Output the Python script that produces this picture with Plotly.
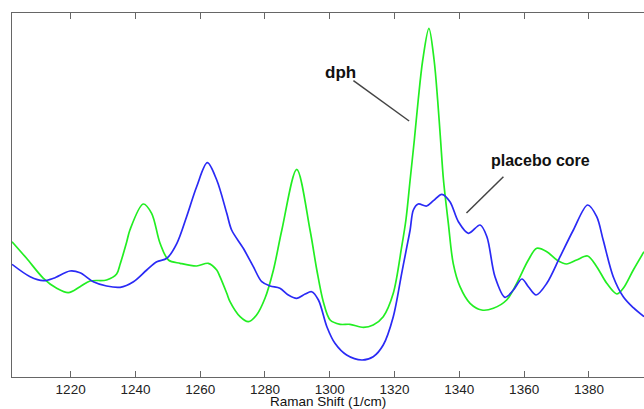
import plotly.graph_objects as go

# Raman shift (1/cm) and intensity (arbitrary units)
dph_shift = [1201.9, 1206.4, 1211.6, 1215.7, 1219.3, 1222.9, 1226.0, 1231.1, 1234.2, 1235.3,
             1237.3, 1238.3, 1242.4, 1245.0, 1247.6, 1250.2, 1253.8, 1258.9, 1262.5, 1265.1,
             1266.1, 1268.2, 1269.2, 1272.3, 1274.9, 1277.4, 1280.0, 1282.6, 1285.2, 1289.8,
             1293.9, 1296.0, 1298.0, 1300.1, 1303.2, 1306.2, 1310.4, 1313.4, 1316.5, 1319.6,
             1322.2, 1323.5, 1324.8, 1326.1, 1327.3, 1328.7, 1330.6, 1332.2, 1333.3, 1334.2,
             1335.1, 1336.6, 1338.1, 1340.2, 1343.3, 1346.9, 1350.5, 1354.6, 1357.7, 1361.3,
             1363.9, 1367.0, 1370.1, 1373.1, 1376.2, 1379.6, 1382.4, 1385.5, 1388.6, 1390.6,
             1393.7, 1397.0]
dph_int = [135.3, 118.7, 98.7, 88.7, 84.3, 90.3, 96.0, 97.0, 103.0, 113.0,
           135.0, 147.0, 173.0, 163.7, 133.7, 117.0, 113.7, 111.0, 113.7, 107.0,
           100.3, 83.7, 75.3, 60.3, 55.3, 62.0, 78.7, 107.0, 147.0, 207.7,
           147.0, 107.0, 75.3, 57.0, 52.7, 52.7, 49.7, 52.0, 60.3, 83.7,
           130.3, 157.0, 197.0, 237.0, 277.0, 317.0, 348.7, 317.0, 277.0, 237.0,
           197.0, 153.7, 113.7, 90.3, 73.7, 67.0, 68.7, 77.0, 93.7, 117.0,
           128.7, 125.3, 117.0, 113.0, 117.0, 121.0, 110.3, 93.7, 83.0, 88.7,
           107.0, 125.3]

placebo_shift = [1201.9, 1207.5, 1211.6, 1214.7, 1219.8, 1222.9, 1227.0, 1231.1, 1235.3, 1239.4,
                 1243.5, 1246.6, 1249.7, 1252.8, 1255.8, 1258.9, 1262.2, 1265.1, 1268.2, 1269.7,
                 1273.3, 1276.4, 1279.0, 1281.6, 1284.6, 1287.2, 1289.8, 1292.4, 1294.4, 1296.5,
                 1299.1, 1301.6, 1305.2, 1309.9, 1313.4, 1316.5, 1319.6, 1322.2, 1323.8, 1324.8,
                 1325.8, 1327.3, 1329.9, 1332.0, 1334.6, 1337.1, 1339.7, 1342.8, 1346.4, 1348.5,
                 1351.0, 1354.1, 1356.7, 1359.3, 1361.3, 1363.7, 1367.0, 1371.1, 1375.2, 1379.6,
                 1382.4, 1384.4, 1387.5, 1390.6, 1393.7, 1397.0]
placebo_int = [112.7, 100.3, 96.3, 98.7, 106.0, 104.3, 95.3, 91.0, 89.7, 95.3,
               107.0, 115.3, 118.7, 133.7, 160.3, 190.3, 214.3, 197.0, 163.7, 147.0,
               128.7, 110.3, 95.3, 91.0, 88.7, 82.0, 78.7, 83.0, 85.3, 77.0,
               50.3, 33.7, 22.0, 17.0, 20.3, 32.0, 60.3, 103.7, 130.3, 147.0,
               167.0, 173.0, 171.0, 176.3, 182.7, 175.3, 155.3, 143.7, 152.0, 140.3,
               100.3, 79.7, 87.0, 98.0, 90.3, 82.0, 93.7, 120.3, 147.0, 172.0,
               160.3, 137.0, 100.3, 80.3, 69.3, 60.3]

tick_vals = [1220, 1240, 1260, 1280, 1300, 1320, 1340, 1360, 1380]
tick_text = [str(v) for v in tick_vals]

fig = go.Figure()
fig.add_trace(go.Scatter(x=dph_shift, y=dph_int, mode="lines", name="dph",
                         line=dict(color="#22ee22", width=1.7, shape="spline", smoothing=0.9)))
fig.add_trace(go.Scatter(x=placebo_shift, y=placebo_int, mode="lines", name="placebo core",
                         line=dict(color="#2a2af5", width=1.7, shape="spline", smoothing=0.9)))

# pointer lines for the labels
fig.add_shape(type="line", x0=1307.3, y0=296.3, x1=1324.5, y1=256.0,
              line=dict(color="#444444", width=1.5))
fig.add_shape(type="line", x0=1353.6, y0=200.3, x1=1342.2, y1=164.0,
              line=dict(color="#444444", width=1.5))

fig.add_annotation(x=1303.4, y=305, text="<b>dph</b>", showarrow=False,
                   font=dict(family="Liberation Sans, Arial", size=17, color="#111111"))
fig.add_annotation(x=1364.9, y=217, text="<b>placebo core</b>", showarrow=False,
                   font=dict(family="Liberation Sans, Arial", size=16, color="#111111"))

# axis title as a paper-anchored annotation
fig.add_annotation(x=0.5, xref="paper", y=0, yref="paper", yshift=-34,
                   text="Raman Shift (1/cm)", showarrow=False,
                   font=dict(family="Liberation Sans, Arial", size=13.5, color="#111111"))

fig.update_layout(
    width=644, height=409,
    margin=dict(l=12, r=0, t=13, b=32, autoexpand=False),
    paper_bgcolor="white", plot_bgcolor="white",
    showlegend=False,
    font=dict(family="Liberation Sans, Arial", color="#222222"),
)
fig.update_xaxes(range=[1201.9, 1397.0], tickvals=tick_vals, ticktext=tick_text,
                 ticks="inside", ticklen=6, tickcolor="#666666",
                 showline=True, linecolor="#666666", linewidth=1, mirror="ticks",
                 showgrid=False, zeroline=False, tickfont=dict(size=13.5),
                 automargin=False)
fig.update_yaxes(range=[0, 364], showticklabels=False, ticks="",
                 showline=True, linecolor="#666666", linewidth=1,
                 showgrid=False, zeroline=False, automargin=False)

fig.write_html("out.html", config={"displayModeBar": False},
               post_script="document.body.style.margin='0';document.body.style.overflow='hidden';")
